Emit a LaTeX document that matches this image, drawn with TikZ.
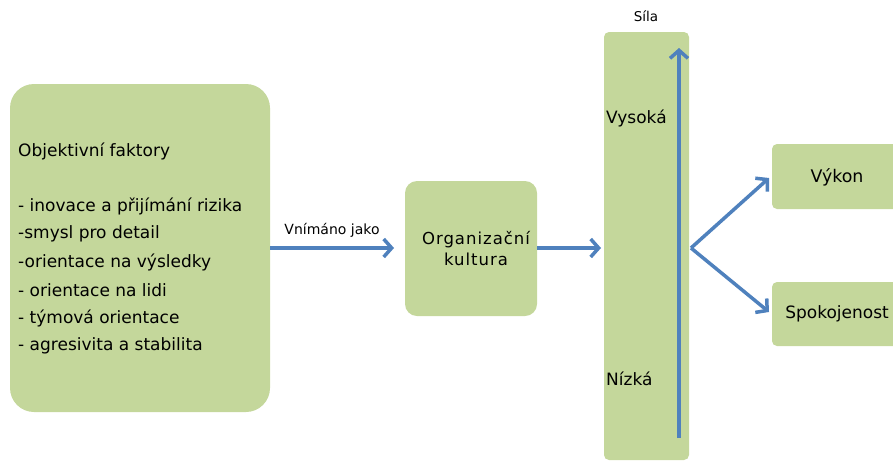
\documentclass[tikz,border=0pt]{standalone}
\usepackage{fontspec}
\setmainfont{DejaVu Sans}
\newfontfamily\widefont[LetterSpace=6]{DejaVu Sans}
\usetikzlibrary{arrows.meta}
\definecolor{boxgreen}{RGB}{196,215,155}
\definecolor{arrowblue}{RGB}{79,129,189}
\tikzset{
  greenbox/.style={fill=boxgreen, draw=none},
  flow/.style={draw=arrowblue, line width=3.5pt,
    -{Straight Barb[length=8pt, width=18pt, line width=3.5pt]}},
  lbl/.style={inner sep=0pt, anchor=west, font=\fontsize{17}{17}\selectfont},
}
\begin{document}
\begin{tikzpicture}[x=1pt, y=-1pt]
  \useasboundingbox (0,0) rectangle (893,461);
  \begin{scope}
    \clip (0,0) rectangle (893,461);
    % boxes
    \path[greenbox, rounded corners=24pt] (10,84) rectangle (270,412);
    \path[greenbox, rounded corners=12pt] (405,181) rectangle (537,316);
    \path[greenbox, rounded corners=5pt] (604,32) rectangle (689,460);
    \path[greenbox, rounded corners=5pt] (772,144) rectangle (900,209);
    \path[greenbox, rounded corners=5pt] (772,282) rectangle (900,346);
  \end{scope}

  % named anchors on the boxes
  \coordinate (objR) at (270,248);
  \coordinate (orgL) at (394,248);
  \coordinate (orgR) at (537,248);
  \coordinate (barL) at (601,248);
  \coordinate (barR) at (691,248);
  \coordinate (vykL) at (769,178);
  \coordinate (spoL) at (769,312);
  \coordinate (axisB) at (679,438);
  \coordinate (axisT) at (679,48);

  % left box text
  \node[lbl] (title) at (18,151) {Objektivní faktory};
  \node[lbl] (f1) at (18,206) {- inovace a přijímání rizika};
  \node[lbl] (f2) at (18,234) {-smysl pro detail};
  \node[lbl] (f3) at (18,262) {-orientace na výsledky};
  \node[lbl] (f4) at (18,290) {- orientace na lidi};
  \node[lbl] (f5) at (18,318) {- týmová orientace};
  \node[lbl] (f6) at (18,346) {- agresivita a stabilita};

  % middle box text
  \node[align=center, font=\widefont\fontsize{16.5}{21}\selectfont] (org) at (476,249)
    {Organizační\\kultura};

  % bar labels
  \node[lbl] (vys) at (606,118) {Vysoká};
  \node[lbl] (niz) at (606,379) {Nízká};
  \node[font=\fontsize{13.5}{13.5}\selectfont, inner sep=0pt] (sila) at (646,16) {Síla};

  % right box text
  \node[font=\fontsize{17.4}{17.4}\selectfont] (vykon) at (837,177) {Výkon};
  \node[font=\fontsize{17}{17}\selectfont] (spok) at (837,314) {Spokojenost};

  % connectors
  \draw[flow] (objR) -- node[above=6pt, font=\fontsize{14}{14}\selectfont] (vn) {Vnímáno jako} (orgL);
  \draw[flow] (orgR) -- (barL);
  \draw[flow] (axisB) -- (axisT);
  \draw[flow] (barR) -- (vykL);
  \draw[flow] (barR) -- (spoL);
\end{tikzpicture}
\end{document}
